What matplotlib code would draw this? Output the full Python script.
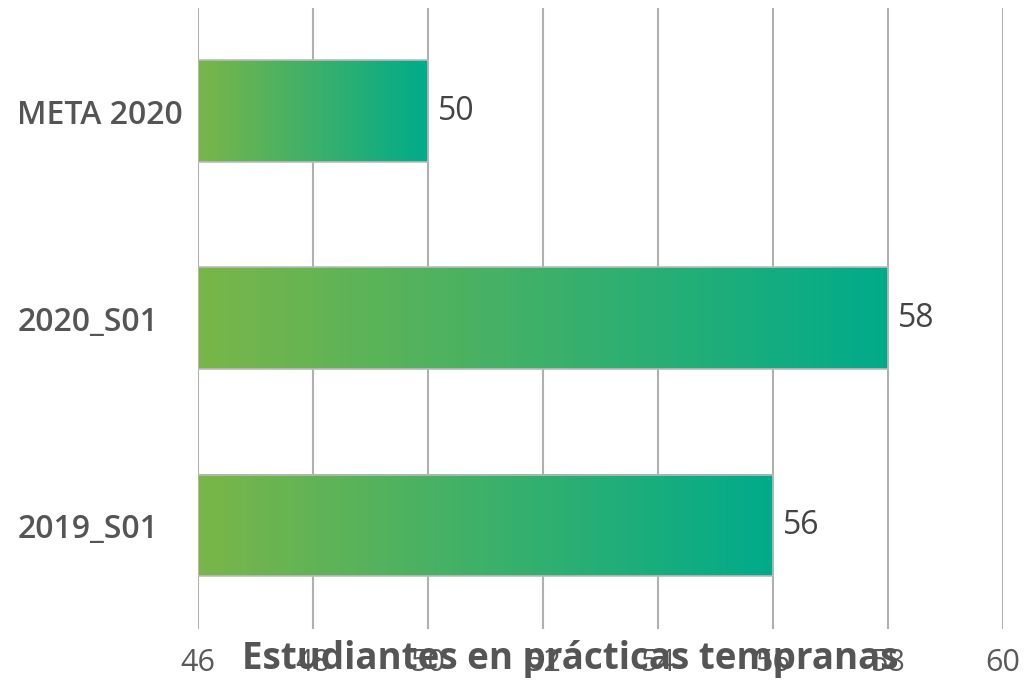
import numpy as np
import matplotlib
matplotlib.use("Agg")
import matplotlib.pyplot as plt
from matplotlib.colors import LinearSegmentedColormap

# data (bottom to top)
categories = ["2019_S01", "2020_S01", "META 2020"]
values = [56, 58, 50]
x_ticks = [46, 48, 50, 52, 54, 56, 58, 60]
title = "Estudiantes en prácticas tempranas"

plt.rcParams['font.family'] = ['Open Sans', 'DejaVu Sans']

fig = plt.figure(figsize=(10.26, 6.82), dpi=100)
ax = fig.add_axes([198/1026, 1 - 629/682, (1003-198)/1026, (629-7.5)/682])

cmap = LinearSegmentedColormap.from_list("grn", ["#7ab648", "#00ab8b"])
grad = np.linspace(0, 1, 256).reshape(1, -1)
h = 0.49
base = x_ticks[0]

for i, v in enumerate(values):
    ax.imshow(grad, cmap=cmap, aspect='auto', extent=[base, v, i - h/2, i + h/2],
              zorder=2, interpolation='bilinear')
    ax.barh(i, v - base, left=base, height=h, facecolor='none',
            edgecolor='#bbbbbb', linewidth=1.2, zorder=3)
    ax.text(v + 0.17, i, str(v), va='center', ha='left', fontsize=23, color='#444444')

ax.set_xlim(46, 60)
ax.set_ylim(-0.5, 2.5)
ax.set_xticks(x_ticks)
ax.set_yticks(range(len(categories)))
ax.set_yticklabels(categories, fontsize=23, fontweight='semibold', color='#555555')
for lab in ax.get_yticklabels():
    lab.set_horizontalalignment('left')
ax.tick_params(axis='x', labelsize=22, labelcolor='#5a5a5a', length=0, pad=14)
ax.tick_params(axis='y', length=0, pad=130)
ax.grid(axis='x', color='#b0b0b0', linewidth=1.5, zorder=0)
ax.set_axisbelow(True)
for s in ax.spines.values():
    s.set_visible(False)

fig.text(570/1026, 1 - 659/682, title, ha='center', va='center', fontsize=26.5,
         fontweight='bold', color='#555555')

fig.savefig("out.png", dpi=100)
